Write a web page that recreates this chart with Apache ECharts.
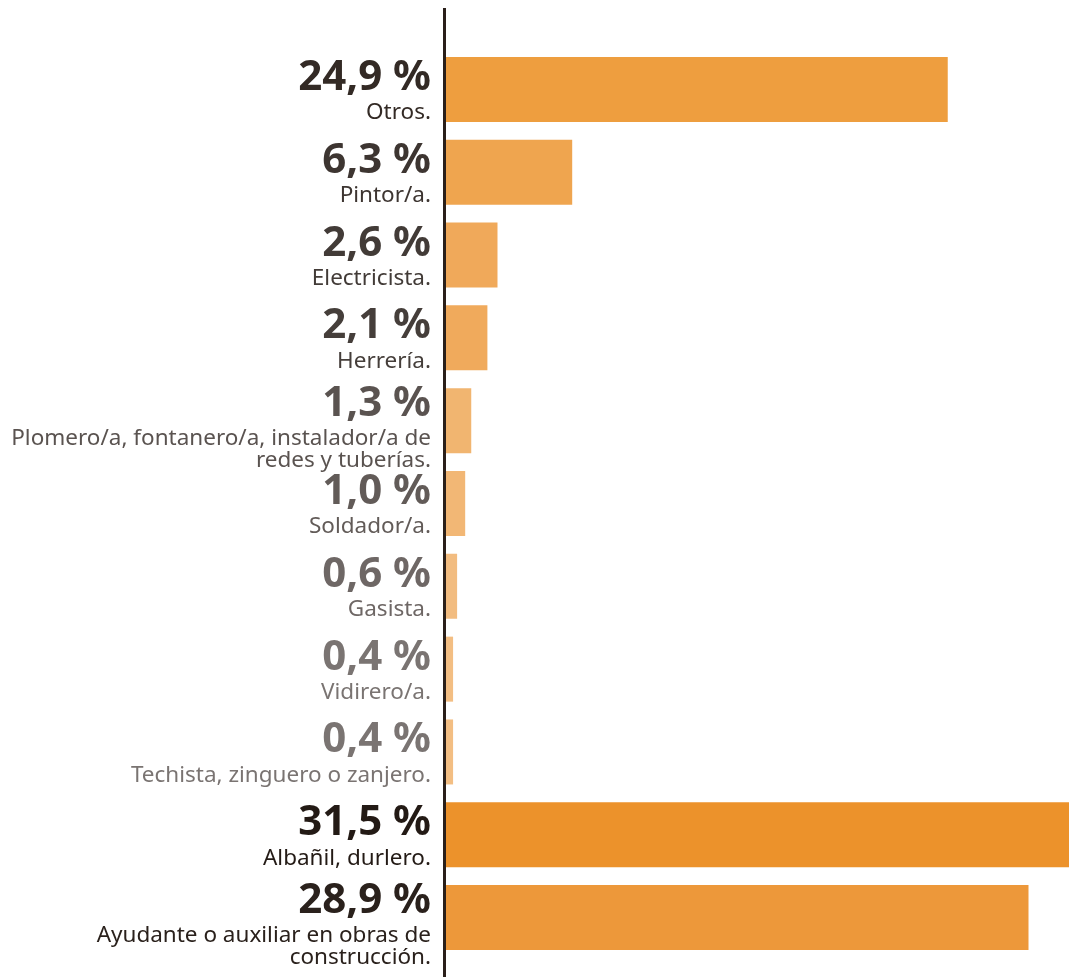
<!DOCTYPE html>
<html>
<head>
<meta charset="utf-8">
<script src="https://cdn.jsdelivr.net/npm/echarts@6/dist/echarts.min.js"></script>
<style>
  html, body { margin: 0; padding: 0; background: #fff; }
  #chart { width: 1069px; height: 977px; }
</style>
</head>
<body>
<div id="chart"></div>
<script>
// categorías (orden de arriba hacia abajo)
var categories = [
  'Otros.',
  'Pintor/a.',
  'Electricista.',
  'Herrería.',
  'Plomero/a, fontanero/a, instalador/a de\nredes y tuberías.',
  'Soldador/a.',
  'Gasista.',
  'Vidirero/a.',
  'Techista, zinguero o zanjero.',
  'Albañil, durlero.',
  'Ayudante o auxiliar en obras de\nconstrucción.'
];
var values = [24.9, 6.3, 2.6, 2.1, 1.3, 1.0, 0.6, 0.4, 0.4, 31.5, 28.9];
var percentLabels = ['24,9 %', '6,3 %', '2,6 %', '2,1 %', '1,3 %', '1,0 %', '0,6 %', '0,4 %', '0,4 %', '31,5 %', '28,9 %'];

// colores
var barColors = ['#EE9E3F', '#EFA54F', '#F0A95A', '#F0AA5C', '#F1B570', '#F2B775', '#F2BC80', '#F3BE83', '#F3BE83', '#EC922B', '#ED983A'];
var textColors = ['#332a25', '#3d3531', '#423b37', '#453e3a', '#5a5350', '#625b58', '#6e6765', '#7a7472', '#7a7472', '#231a15', '#2a211c'];

var chart = echarts.init(document.getElementById('chart'));

var rich = {
  sp: { fontSize: 10, lineHeight: 10 },
  sp2: { fontSize: 10, lineHeight: 11 }
};
textColors.forEach(function (c, i) {
  rich['p' + i] = {
    fontFamily: 'Noto Sans',
    fontWeight: 'bold',
    fontSize: 42,
    lineHeight: 48,
    color: c,
    align: 'right'
  };
  rich['n' + i] = {
    fontFamily: 'Noto Sans',
    fontSize: 22.5,
    lineHeight: 22,
    color: c,
    align: 'right'
  };
});

var option = {
  backgroundColor: '#ffffff',
  animation: false,
  grid: {
    left: 445,
    right: -12,
    top: 48,
    bottom: 18,
    outerBoundsMode: 'none'
  },
  xAxis: {
    type: 'value',
    min: 0,
    max: 31.5,
    show: false
  },
  yAxis: {
    type: 'category',
    inverse: true,
    data: categories,
    axisLine: { show: false },
    axisTick: { show: false },
    axisLabel: {
      margin: 14,
      interval: 0,
      showMinLabel: true,
      showMaxLabel: true,
      hideOverlap: false,
      formatter: function (value, index) {
        var lines = value.split('\n');
        var txt = '{sp| }\n{p' + index + '|' + percentLabels[index] + '}\n' + lines.map(function (l) {
          return '{n' + index + '|' + l + '}';
        }).join('\n');
        if (lines.length < 2) txt += '\n{sp2| }';
        return txt;
      },
      rich: rich
    }
  },
  series: [
    {
      type: 'bar',
      barWidth: 65,
      data: values.map(function (v, i) {
        return { value: v, itemStyle: { color: barColors[i] } };
      })
    }
  ],
  graphic: [
    {
      type: 'line',
      shape: { x1: 444.5, y1: 8, x2: 444.5, y2: 977 },
      style: { stroke: '#2a1f1a', lineWidth: 3 },
      z: 10
    }
  ]
};

chart.setOption(option);
</script>
</body>
</html>
